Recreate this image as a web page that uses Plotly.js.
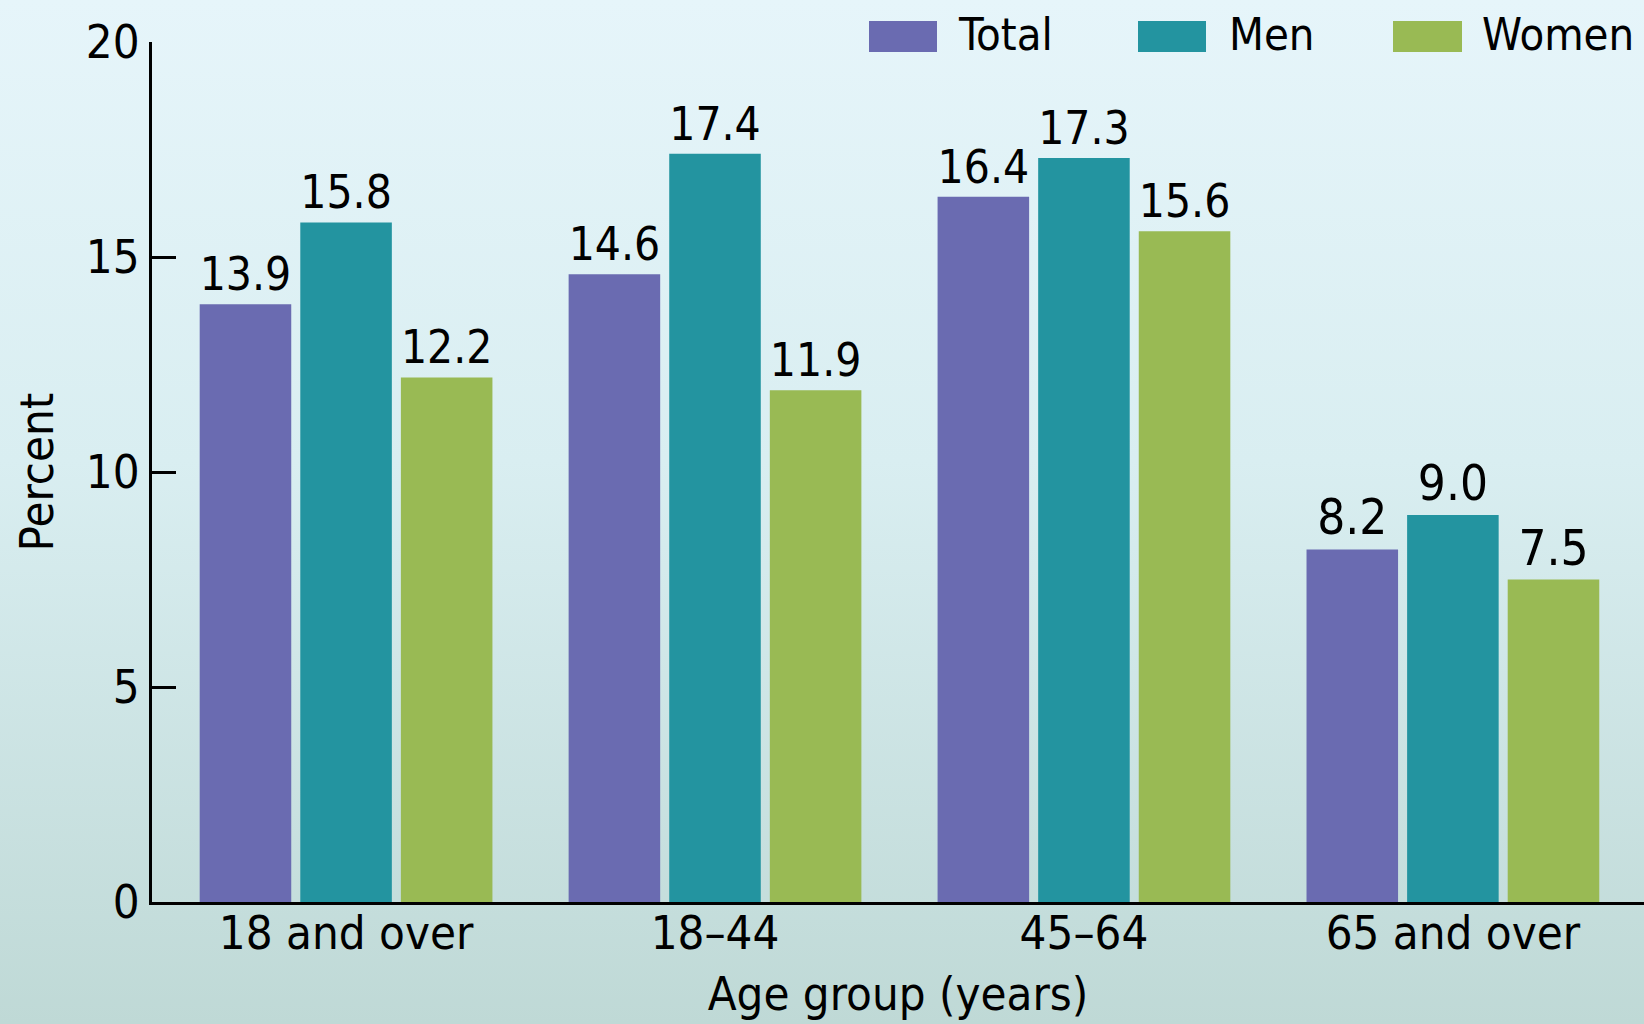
<!DOCTYPE html>
<html>
<head>
<meta charset="utf-8">
<script src="https://cdn.plot.ly/plotly-3.0.1.min.js"></script>
<style>
  html, body { margin: 0; padding: 0; width: 1644px; height: 1024px; overflow: hidden;
    background: linear-gradient(to bottom, #e6f5fa 0%, #d9eef1 45%, #bfd9d6 100%); }
  #chart { width: 1644px; height: 1024px; }
</style>
</head>
<body>
<div id="chart"></div>
<script>
// ---- data ----
const categories = ["18 and over", "18\u201344", "45\u201364", "65 and over"];
const seriesNames = ["Total", "Men", "Women"];
const totalValues = [13.9, 14.6, 16.4, 8.2];
const menValues = [15.8, 17.4, 17.3, 9.0];
const womenValues = [12.2, 11.9, 15.6, 7.5];
const yTickValues = [0, 5, 10, 15, 20];

// ---- style ----
const colors = ["#6a6bb1", "#2394a0", "#99ba54"];
const FONT = "'Liberation Sans Narrow', 'DejaVu Sans Condensed', 'Arial Narrow', sans-serif";
const FS = 47;
const LFS = 45;
const W = 1644, H = 1024;
const M = { l: 152, r: 0, t: 42, b: 122 };
const PW = W - M.l - M.r, PH = H - M.t - M.b;
const px = x => (x - M.l) / PW;
const py = y => (H - M.b - y) / PH;

const allValues = [totalValues, menValues, womenValues];
const traces = allValues.map((vals, i) => ({
  type: "bar",
  name: seriesNames[i],
  x: categories,
  y: vals,
  marker: { color: colors[i], line: { width: 0 } },
  texttemplate: "%{y:.1f}",
  textposition: "outside",
  cliponaxis: false,
  textfont: { family: FONT, size: 49, color: "#000" },
  hoverinfo: "skip",
  showlegend: false
}));

// legend drawn as swatches + labels (positions in pixels)
const legendSwatchX = [[869, 937], [1138, 1206], [1393, 1462]];
const legendTextX = [956, 1227, 1480];
const shapes = legendSwatchX.map((s, i) => ({
  type: "rect", xref: "paper", yref: "paper",
  x0: px(s[0]), x1: px(s[1]), y0: py(52), y1: py(21),
  fillcolor: colors[i], line: { width: 0 }
}));
const annotations = seriesNames.map((n, i) => ({
  xref: "paper", yref: "paper", x: px(legendTextX[i]), y: py(35),
  xanchor: "left", yanchor: "middle", text: n, showarrow: false,
  font: { family: FONT, size: LFS, color: "#000" }
}));

const layout = {
  width: W, height: H,
  margin: M,
  paper_bgcolor: "rgba(0,0,0,0)",
  plot_bgcolor: "rgba(0,0,0,0)",
  barmode: "group",
  bargap: 0.182,
  bargroupgap: 0.09,
  font: { family: FONT, size: FS, color: "#000" },
  xaxis: {
    type: "category",
    range: [-0.526, 3.518],
    showline: true, linecolor: "#000", linewidth: 3,
    ticks: "", showgrid: false, zeroline: false,
    tickfont: { family: FONT, size: FS, color: "#000" },
    ticklabelstandoff: -12,
    title: { text: "Age group (years)", font: { family: FONT, size: FS, color: "#000" }, standoff: 18 }
  },
  yaxis: {
    range: [0, 20],
    tickvals: yTickValues,
    ticktext: yTickValues.map(String),
    showline: true, linecolor: "#000", linewidth: 3,
    ticks: "inside", ticklen: 24, tickwidth: 3, tickcolor: "#000",
    showgrid: false, zeroline: false,
    tickfont: { family: FONT, size: FS, color: "#000" },
    ticklabelstandoff: 0,
    title: { text: "Percent", font: { family: FONT, size: FS, color: "#000" }, standoff: 18 }
  },
  shapes: shapes,
  annotations: annotations,
  showlegend: false
};

Plotly.newPlot("chart", traces, layout, { staticPlot: true, displayModeBar: false });
</script>
</body>
</html>
